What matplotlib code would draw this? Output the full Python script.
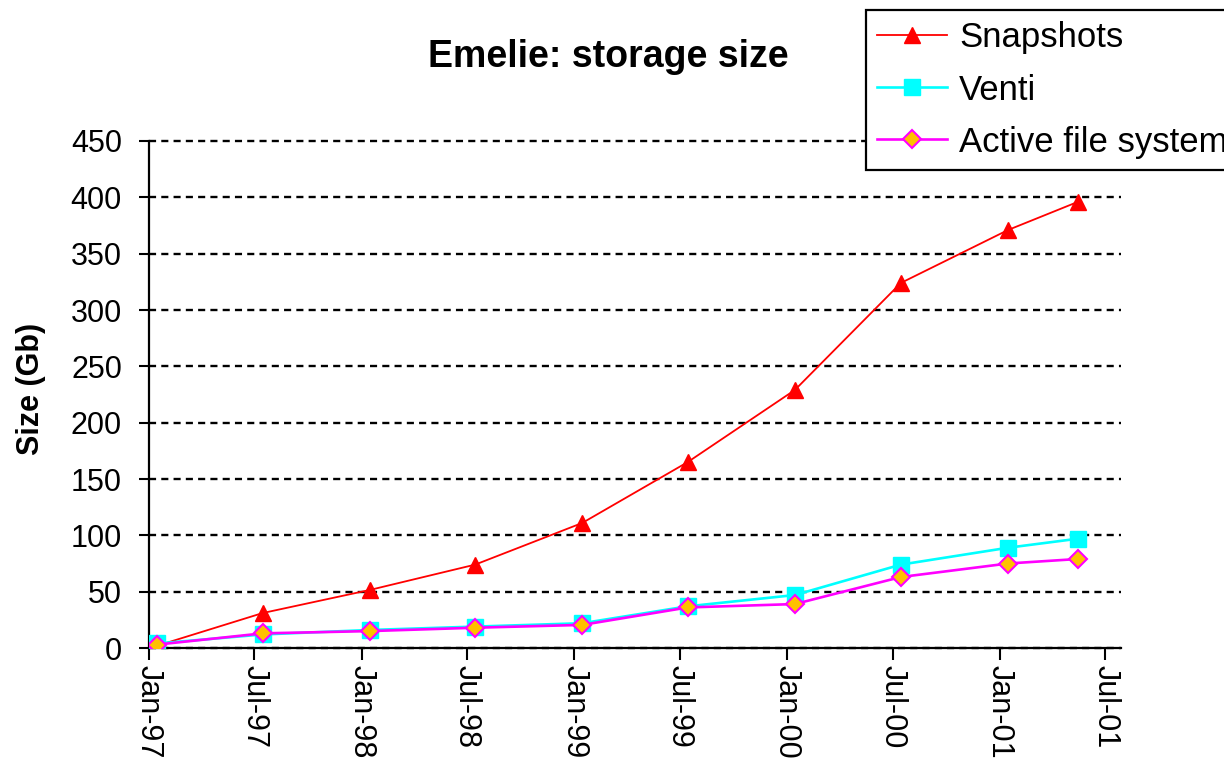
import pandas as pd
import numpy as np
import matplotlib
matplotlib.use('Agg')
import matplotlib.pyplot as plt
import matplotlib.dates as mdates

plt.rcParams['font.family'] = ['Liberation Sans', 'DejaVu Sans']

# sample dates (roughly mid-month, every 6 months, last one in May 2001)
dates = ['1997-01-15', '1997-07-15', '1998-01-15', '1998-07-15', '1999-01-15',
         '1999-07-15', '2000-01-15', '2000-07-15', '2001-01-15', '2001-05-15']
snapshots = [2, 31, 51.5, 74, 111, 165, 229, 324, 371, 396]
venti = [4, 12, 16, 19, 22, 37, 47, 74, 89, 97]
active = [3, 13, 15, 18, 20.5, 36, 39, 63, 75, 79]

x = pd.to_datetime(dates)

fig = plt.figure(figsize=(12.24, 7.75), dpi=100)
ax = fig.add_axes([149/1224, 1 - 648/775, (1121 - 149)/1224, (648 - 141)/775])

ax.plot(x, snapshots, color='#FF0000', lw=1.3, marker='^', ms=12,
        mfc='#FF0000', mec='#FF0000', label='Snapshots', zorder=3)
ax.plot(x, venti, color='#00FFFF', lw=1.9, marker='s', ms=12,
        mfc='#00FFFF', mec='#00FFFF', label='Venti', zorder=4)
ax.plot(x, active, color='#FF00FF', lw=1.9, marker='D', ms=9.5,
        mfc='#FFC000', mec='#FF00FF', mew=1.5, label='Active file system', zorder=5)

ax.set_ylim(0, 450)
ax.set_yticks(np.arange(0, 451, 50))
ax.set_xlim(pd.Timestamp('1997-01-01'), pd.Timestamp('2001-07-28'))
ax.xaxis.set_major_locator(mdates.MonthLocator(bymonth=[1, 7]))
ax.xaxis.set_major_formatter(mdates.DateFormatter('%b-%y'))

ax.yaxis.grid(True, color='black', linestyle=(0, (3.0, 2.2)), lw=1.7)
ax.set_axisbelow(True)
for gl in ax.get_ygridlines():
    gl.set_clip_on(False)

for s in ['top', 'right']:
    ax.spines[s].set_visible(False)
for s in ['left', 'bottom']:
    ax.spines[s].set_linewidth(1.6)

ax.tick_params(axis='y', direction='out', length=7.5, width=1.5, pad=12, labelsize=22)
ax.tick_params(axis='x', direction='out', length=8.5, width=1.5, pad=4, labelsize=22)
for lab in ax.get_xticklabels():
    lab.set_rotation(-90)
    lab.set_ha('center')
    lab.set_va('top')

fig.text(608/1224, 1 - 67/775, 'Emelie: storage size', ha='center', va='baseline',
         fontsize=27, fontweight='bold')
fig.text(31/1224, 1 - 389/775, 'Size (Gb)', rotation=90, ha='center', va='center',
         fontsize=22, fontweight='bold')

leg = fig.legend(loc='upper left', bbox_to_anchor=(866/1224, 1 - 10/775),
                 fontsize=25, frameon=True, fancybox=False, numpoints=1,
                 framealpha=1, handlelength=2.0, handletextpad=0.35,
                 labelspacing=0.55, borderpad=0.33, borderaxespad=0)
leg.get_frame().set_edgecolor('black')
leg.get_frame().set_linewidth(1.6)
leg.set_zorder(10)

fig.savefig('out.png', dpi=100)
